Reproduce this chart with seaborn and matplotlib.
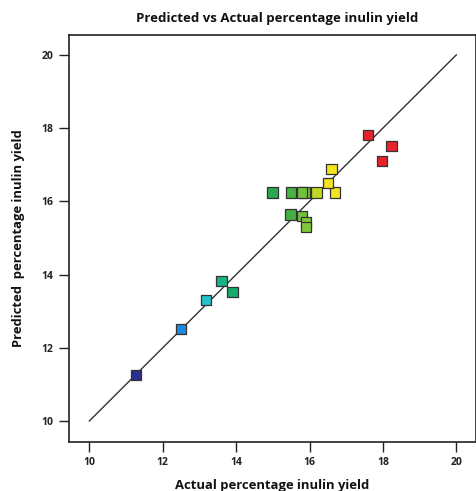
import matplotlib
matplotlib.use("Agg")
import matplotlib.pyplot as plt
import seaborn as sns
import numpy as np
import pandas as pd
from matplotlib.colors import LinearSegmentedColormap

actual = [11.28, 12.50, 13.19, 13.60, 13.90, 14.99, 15.49, 15.86, 15.80, 16.19,
          16.69, 16.50, 16.60, 15.48, 15.80, 15.90, 15.90, 17.59, 18.23, 17.98]
predicted = [11.25, 12.51, 13.30, 13.83, 13.52, 16.24, 16.24, 16.24, 16.24, 16.24,
             16.24, 16.51, 16.88, 15.64, 15.60, 15.44, 15.29, 17.82, 17.51, 17.09]
ticks = [10, 12, 14, 16, 18, 20]

sns.set_theme(style="white")
plt.rcParams['font.family'] = ['Open Sans', 'DejaVu Sans']

df = pd.DataFrame({"Actual": actual, "Predicted": predicted})

cmap = LinearSegmentedColormap.from_list("de", [
    (0.00, "#2b2f8f"), (0.18, "#1f8fe3"), (0.28, "#22c6c8"), (0.35, "#12ad72"),
    (0.58, "#2fa845"), (0.665, "#7ec63c"), (0.71, "#c6da22"), (0.75, "#f2e41e"),
    (0.80, "#f2e41e"), (0.84, "#e8222a"), (1.00, "#e8222a")])

fig = plt.figure(figsize=(4.77, 4.91), dpi=100)
ax = fig.add_axes([0.1447, 0.0998, 0.853, 0.829])

ax.plot([10, 20], [10, 20], color="#333333", lw=1.0, zorder=1)
sns.scatterplot(data=df, x="Actual", y="Predicted", hue="Actual", palette=cmap,
                hue_norm=(11.28, 18.23), marker="s", s=54, edgecolor="#333333",
                linewidth=0.9, legend=False, ax=ax, zorder=3)

ax.set_xlim(9.45, 20.53)
ax.set_ylim(9.43, 20.54)
ax.set_xticks(ticks)
ax.set_yticks(ticks)
ax.tick_params(axis="both", direction="out", length=7, width=1, color="#222222",
               labelsize=7.5, pad=4, bottom=True, left=True)
for lab in ax.get_xticklabels() + ax.get_yticklabels():
    lab.set_fontweight("bold")
    lab.set_color("#222222")
for sp in ax.spines.values():
    sp.set_color("#222222")
    sp.set_linewidth(1.2)

ax.set_xlabel("Actual percentage inulin yield", fontsize=9.4, fontweight="bold",
              color="#111111", labelpad=8)
ax.set_ylabel("Predicted  percentage inulin yield", fontsize=9.4, fontweight="bold",
              color="#111111", labelpad=12)
fig.text(0.58, 0.963, "Predicted vs Actual percentage inulin yield", ha="center",
         va="center", fontsize=9.5, fontweight="bold", color="#111111")

fig.savefig("out.png", dpi=100)
